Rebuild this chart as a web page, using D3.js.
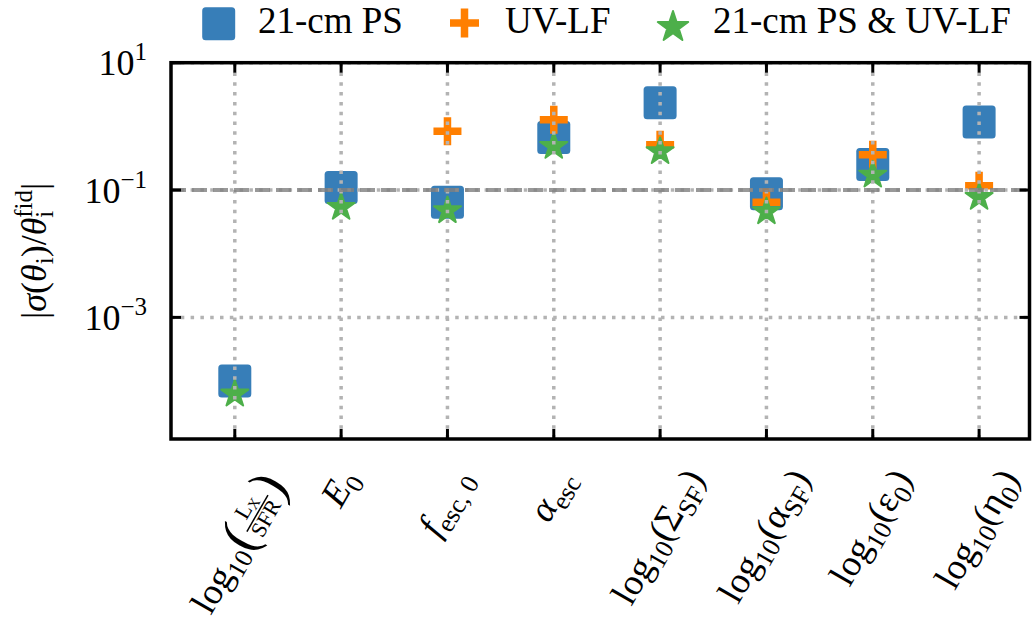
<!DOCTYPE html>
<html><head><meta charset="utf-8">
<script src="https://cdn.jsdelivr.net/npm/d3@7"></script>
<style>
body{margin:0;background:#fff}
svg{display:block}
text{font-family:"Liberation Serif","Times New Roman",serif;fill:#000}
</style>
</head><body>
<svg id="c" width="1032" height="621"></svg>
<script>
// ---------------- data ----------------
const categories = ["log10(Lx/SFR)", "E0", "fesc,0", "alpha_esc", "log10(Sigma_SF)", "log10(alpha_SF)", "log10(eps0)", "log10(eta0)"];
const ps21  = [1.0e-4, 0.110, 0.0644, 0.669, 2.35, 0.0873, 0.252, 1.17];
const uvlf  = [null, null, 0.84, 1.27, 0.515, 0.0642, 0.359, 0.117];
const joint = [6.26e-5, 0.0536, 0.0475, 0.486, 0.402, 0.0458, 0.172, 0.0769];
const seriesNames = ["21-cm PS", "UV-LF", "21-cm PS & UV-LF"];
const yTickValues = [1e1, 1e-1, 1e-3];
const yTickExps = ["1", "\u22121", "\u22123"];
const referenceLevel = 0.1;
// label pieces (mathtext-like)
const xLabelParts = [
  null, // fraction label built separately
  [{t:"E", it:true}, {t:"0", sub:true}],
  [{t:"f", it:true}, {t:"esc, 0", sub:true}],
  [{t:"\u03b1", it:true}, {t:"esc", sub:true}],
  [{t:"log"}, {t:"10", sub:true}, {t:"(\u03a3"}, {t:"SF", sub:true}, {t:")"}],
  [{t:"log"}, {t:"10", sub:true}, {t:"(\u03b1"}, {t:"SF", sub:true}, {t:")"}],
  [{t:"log"}, {t:"10", sub:true}, {t:"(\u03b5"}, {t:"0", sub:true}, {t:")"}],
  [{t:"log"}, {t:"10", sub:true}, {t:"(\u03b7"}, {t:"0", sub:true}, {t:")"}]
];

const colors = {ps:"#377eb8", uv:"#ff7f00", joint:"#4daf4a"};

// ---------------- layout ----------------
const L = 171, R = 1029.5, T = 62.7, B = 439;
const FS = 36, XFS = 37, XSUB = 26;
const svg = d3.select("#c");

const x = d3.scaleLinear().domain([-0.6, 7.474]).range([L, R]);
const y = d3.scaleLog().domain([Math.pow(10, -4.91), 10]).range([B, T]);

// ---------------- markers ----------------
const SQ = 33;
const gm = svg.append("g");
function starPath(r){
  const pts = [];
  for (let k = 0; k < 10; k++){
    const rr = (k % 2 === 0) ? r : r * 0.381966;
    const a = -Math.PI/2 + k * Math.PI/5;
    pts.push([rr*Math.cos(a), rr*Math.sin(a)]);
  }
  return "M" + pts.map(p => p[0].toFixed(2)+","+p[1].toFixed(2)).join("L") + "Z";
}
function plusPath(s, w){
  const a = s/2, b = w/2;
  return `M${-b},${-a}H${b}V${-b}H${a}V${b}H${b}V${a}H${-b}V${b}H${-a}V${-b}H${-b}Z`;
}
gm.selectAll("rect.ps").data(ps21.map((v,i)=>({v,i})).filter(d=>d.v!=null))
  .enter().append("rect").attr("class","ps")
  .attr("x", d => x(d.i) - SQ/2).attr("y", d => y(d.v) - SQ/2)
  .attr("width", SQ).attr("height", SQ).attr("rx", 3.5)
  .attr("fill", colors.ps);
gm.selectAll("path.uv").data(uvlf.map((v,i)=>({v,i})).filter(d=>d.v!=null))
  .enter().append("path").attr("class","uv")
  .attr("d", plusPath(28, 7.5))
  .attr("transform", d => `translate(${x(d.i)},${y(d.v)})`)
  .attr("fill", colors.uv);
gm.selectAll("path.jt").data(joint.map((v,i)=>({v,i})).filter(d=>d.v!=null))
  .enter().append("path").attr("class","jt")
  .attr("d", starPath(14.2))
  .attr("transform", d => `translate(${x(d.i)},${y(d.v)})`)
  .attr("fill", colors.joint).attr("stroke", colors.joint)
  .attr("stroke-width", 2).attr("stroke-linejoin", "round");

// ---------------- grid (on top) ----------------
const gg = svg.append("g");
gg.selectAll("line.vg").data(categories.map((c,i)=>i)).enter().append("line")
  .attr("x1", d=>x(d)).attr("x2", d=>x(d)).attr("y1", T).attr("y2", B)
  .attr("stroke", "#b3b3b3").attr("stroke-width", 3.5).attr("stroke-dasharray", "3.5,6.3");
gg.selectAll("line.hg").data(yTickValues).enter().append("line")
  .attr("x1", L).attr("x2", R).attr("y1", d=>y(d)).attr("y2", d=>y(d))
  .attr("stroke", "#b3b3b3").attr("stroke-width", 3.5).attr("stroke-dasharray", "3.5,6.3");
gg.append("line")
  .attr("x1", L).attr("x2", R).attr("y1", y(referenceLevel)).attr("y2", y(referenceLevel))
  .attr("stroke", "#808080").attr("stroke-opacity", 0.8).attr("stroke-width", 4)
  .attr("stroke-dasharray", "15,6");

// ---------------- frame & ticks ----------------
svg.append("rect").attr("x", L).attr("y", T).attr("width", R-L).attr("height", B-T)
  .attr("fill", "none").attr("stroke", "#000").attr("stroke-width", 3.5);
const TL = 10;
const gt = svg.append("g").attr("stroke", "#000").attr("stroke-width", 3);
categories.forEach((c,i) => {
  gt.append("line").attr("x1", x(i)).attr("x2", x(i)).attr("y1", B).attr("y2", B-TL);
  gt.append("line").attr("x1", x(i)).attr("x2", x(i)).attr("y1", T).attr("y2", T+TL);
});
yTickValues.forEach(v => {
  gt.append("line").attr("x1", L).attr("x2", L+TL).attr("y1", y(v)).attr("y2", y(v));
  gt.append("line").attr("x1", R).attr("x2", R-TL).attr("y1", y(v)).attr("y2", y(v));
});

yTickValues.forEach((v,k) => {
  const t = svg.append("text").attr("x", 147).attr("y", y(v) + 12.5)
    .attr("text-anchor", "end").style("font-size", FS + "px");
  t.append("tspan").text("10");
  t.append("tspan").attr("dy", -15).style("font-size", "25px").text(yTickExps[k]);
});

(function(){
  const g = svg.append("g").attr("transform", `translate(46,${(T+B)/2}) rotate(-90)`);
  const t = g.append("text").attr("text-anchor", "middle").style("font-size", FS + "px");
  t.append("tspan").text("|");
  t.append("tspan").style("font-style","italic").text("\u03c3");
  t.append("tspan").text("(");
  t.append("tspan").style("font-style","italic").text("\u03b8");
  t.append("tspan").attr("dy", 7).style("font-size","25px").text("i");
  t.append("tspan").attr("dy", -7).text(")/");
  t.append("tspan").style("font-style","italic").text("\u03b8");
  t.append("tspan").attr("dy", 7).style("font-size","25px").text("i");
  t.append("tspan").attr("dx", -7).attr("dy", -21).style("font-size","25px").text("fid");
  t.append("tspan").attr("dy", 14).text("|");
})();

// ---------------- x tick labels ----------------
const ANG = 60, LABEL_TOP = 462;
function addParts(g, parts){
  const t = g.append("text").style("font-size", XFS + "px");
  let shift = 0;
  parts.forEach(p => {
    const s = t.append("tspan").text(p.t);
    const target = p.sub ? 8 : 0;
    if (target !== shift) { s.attr("dy", target - shift); shift = target; }
    if (p.sub) s.style("font-size", XSUB + "px");
    if (p.it) s.style("font-style", "italic");
  });
}
function addFraction(g){
  let cx = 0;
  const put = (txt, xx, yy, fs) => {
    const t = g.append("text").attr("x", xx).attr("y", yy).style("font-size", fs + "px").text(txt);
    return t.node().getComputedTextLength();
  };
  cx += put("log", cx, 0, XFS);
  cx += put("10", cx, 8, XSUB);
  cx += put("(", cx, 2, 54);
  const nt = g.append("text").style("font-size", "22px");
  nt.append("tspan").text("L");
  nt.append("tspan").attr("dy", 3).style("font-size", "15px").text("X");
  const numW = nt.node().getComputedTextLength();
  const dt = g.append("text").style("font-size", "22px").text("SFR");
  const denW = dt.node().getComputedTextLength();
  const fw = Math.max(numW, denW) + 3;
  nt.attr("x", cx + (fw - numW)/2).attr("y", -17);
  dt.attr("x", cx + (fw - denW)/2).attr("y", 6);
  g.append("line").attr("x1", cx).attr("x2", cx + fw).attr("y1", -11).attr("y2", -11)
    .attr("stroke", "#000").attr("stroke-width", 1.5);
  cx += fw;
  put(")", cx, 2, 54);
}
categories.forEach((c,i) => {
  const outer = svg.append("g");
  const inner = outer.append("g").attr("transform", `rotate(${-ANG})`);
  if (xLabelParts[i]) addParts(inner, xLabelParts[i]); else addFraction(inner);
  const bb = outer.node().getBBox();
  outer.attr("transform", `translate(${x(i) - (bb.x + bb.width/2)},${LABEL_TOP - bb.y})`);
});

// ---------------- legend ----------------
const lg = svg.append("g");
lg.append("rect").attr("x", 218.7 - SQ/2).attr("y", 23.7 - SQ/2).attr("width", SQ).attr("height", SQ)
  .attr("rx", 3.5).attr("fill", colors.ps);
lg.append("text").attr("x", 258).attr("y", 33).style("font-size", "37px").text(seriesNames[0]);
lg.append("path").attr("d", plusPath(29, 7.5)).attr("transform", "translate(464.5,23)").attr("fill", colors.uv);
lg.append("text").attr("x", 505).attr("y", 33).style("font-size", "37px").text(seriesNames[1]);
lg.append("path").attr("d", starPath(16)).attr("transform", "translate(673,27)")
  .attr("fill", colors.joint).attr("stroke", colors.joint).attr("stroke-width", 2).attr("stroke-linejoin","round");
lg.append("text").attr("x", 713).attr("y", 33).style("font-size", "37px").text(seriesNames[2]);
</script>
</body></html>
